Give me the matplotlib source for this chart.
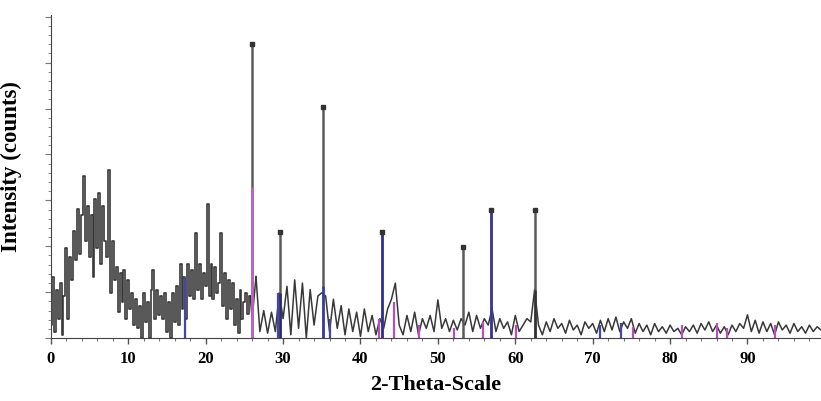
import numpy as np
import matplotlib
matplotlib.use('Agg')
import matplotlib.pyplot as plt
from matplotlib.ticker import MultipleLocator

plt.rcParams['font.family'] = ['Liberation Serif', 'DejaVu Serif']

# background trace, 0 - 25.75 deg (step 0.25)
counts_low = [40, 190, 20, 150, 60, 170, 10, 130, 280, 60, 250,
              180, 330, 240, 400, 260, 380, 500, 300,
              410, 250, 380, 190, 430, 280, 450, 230, 410, 300, 250,
              520, 140, 300, 180,
              220, 80, 200, 110, 210, 60, 180, 90,
              140, 40, 120, 30, 100, 0, 140, 50, 110,
              0, 150, 210, 60, 150, 70, 130, 60, 140,
              20, 110, 0, 140, 50, 160, 40, 230, 90, 190, 60,
              230, 130, 210, 120, 325, 150, 230, 120, 200,
              160, 415, 130, 230, 120, 220, 140, 170, 325,
              100, 200, 60, 180, 90, 170, 40, 120, 15, 150, 60, 110,
              140, 75, 130]

# background trace, 26.5 - 99.5 deg (step 0.5)
counts_high = [190, 20, 85, 15, 80, 20, 140, 60, 160, 10, 180, 30, 170, 0,
               150, 40, 130, 140, 130, 20, 120, 30, 100, 10, 90, 20, 80, 5,
               90, 20, 70, 10, 60, 30, 90, 120, 170, 40, 10, 70, 20, 80, 10,
               60, 30, 70, 20, 118, 30, 60, 20, 55, 25, 60, 40, 80, 20, 70,
               30, 60, 40, 90, 20, 60, 30, 50, 10, 70, 20, 40, 60, 50, 150,
               40, 10, 50, 20, 60, 30, 45, 15, 55, 25, 40, 10, 50, 30, 45,
               15, 55, 20, 60, 25, 65, 20, 50, 30, 60, 15, 45, 20, 40, 10,
               45, 20, 35, 15, 40, 20, 30, 10, 35, 20, 40, 15, 45, 25, 50,
               20, 40, 15, 35, 10, 40, 20, 45, 30, 72, 20, 55, 15, 50, 20,
               45, 10, 50, 25, 40, 15, 45, 20, 35, 15, 40, 20, 35, 25]

# sharp reflections
peak_pos = [26.0, 29.6, 35.1, 42.8, 53.3, 56.9, 62.6]
peak_height = [910, 328, 715, 328, 282, 396, 396]
peak_split = [467, 140, 160, 328, 0, 396, 150]
peak_low_color = ['#c75fc7', '#2b2b70', '#3b3ba8', '#2e2e9a', '#555555', '#3434a8', '#333333']

# reference pattern sticks near baseline
pink_pos = [42.4, 44.3, 47.6, 52.1, 55.8, 60.1, 75.2, 81.6, 86.1, 87.4, 93.6]
pink_height = [60, 110, 40, 30, 50, 40, 35, 40, 45, 30, 40]
blue_pos = [17.3, 29.3, 36.1, 71.0, 73.6]
blue_height = [190, 140, 60, 40, 45]

x_low = np.arange(len(counts_low)) * 0.25
x_high = 26.5 + np.arange(len(counts_high)) * 0.5
x_ticks = [0, 10, 20, 30, 40, 50, 60, 70, 80, 90]

fig = plt.figure(figsize=(8.21, 4.01), dpi=100)
ax = fig.add_axes([0.062, 0.157, 0.938, 0.806])

ax.plot(x_low, counts_low, color='#383838', lw=1.2, drawstyle='steps-mid')
ax.plot(x_high, counts_high, color='#383838', lw=1.1)
ax.plot([x_low[-1], peak_pos[0], x_high[0]], [counts_low[-1], 60, counts_high[0]],
        color='#383838', lw=1.1)

ax.vlines(pink_pos, 0, pink_height, color='#b84fc0', lw=1.6)
ax.vlines(blue_pos, 0, blue_height, color='#4545a8', lw=1.6)

ax.vlines(peak_pos, 0, peak_height, color='#5a5a5a', lw=1.8)
ax.vlines(peak_pos, 0, peak_split, color=peak_low_color, lw=1.8)
ax.plot(peak_pos, peak_height, 's', color='#333333', ms=2.2)

ax.set_xlim(0, 99.5)
ax.set_ylim(0, 1000)
ax.spines['top'].set_visible(False)
ax.spines['right'].set_visible(False)
ax.spines['left'].set_color('#444444')
ax.spines['bottom'].set_color('#444444')

ax.set_xticks(x_ticks)
ax.set_xticklabels([str(t) for t in x_ticks], fontweight='bold', fontsize=12)
ax.xaxis.set_minor_locator(MultipleLocator(2))
ax.yaxis.set_major_locator(MultipleLocator(142))
ax.yaxis.set_minor_locator(MultipleLocator(28.4))
ax.set_yticklabels([])
ax.tick_params(axis='x', which='major', length=4, width=1, color='#555555', pad=5)
ax.tick_params(axis='x', which='minor', length=2.5, width=0.8, color='#777777')
ax.tick_params(axis='y', which='major', length=4, width=0.8, color='#777777')
ax.tick_params(axis='y', which='minor', length=2.5, width=0.7, color='#888888')

ax.set_xlabel('2-Theta-Scale', fontsize=16, fontweight='bold')
ax.xaxis.set_label_coords(0.5, -0.115)
ax.set_ylabel('Intensity (counts)', fontsize=16.5, fontweight='bold')
ax.yaxis.set_label_coords(-0.038, 0.53)

plt.savefig('out.png', dpi=100)
